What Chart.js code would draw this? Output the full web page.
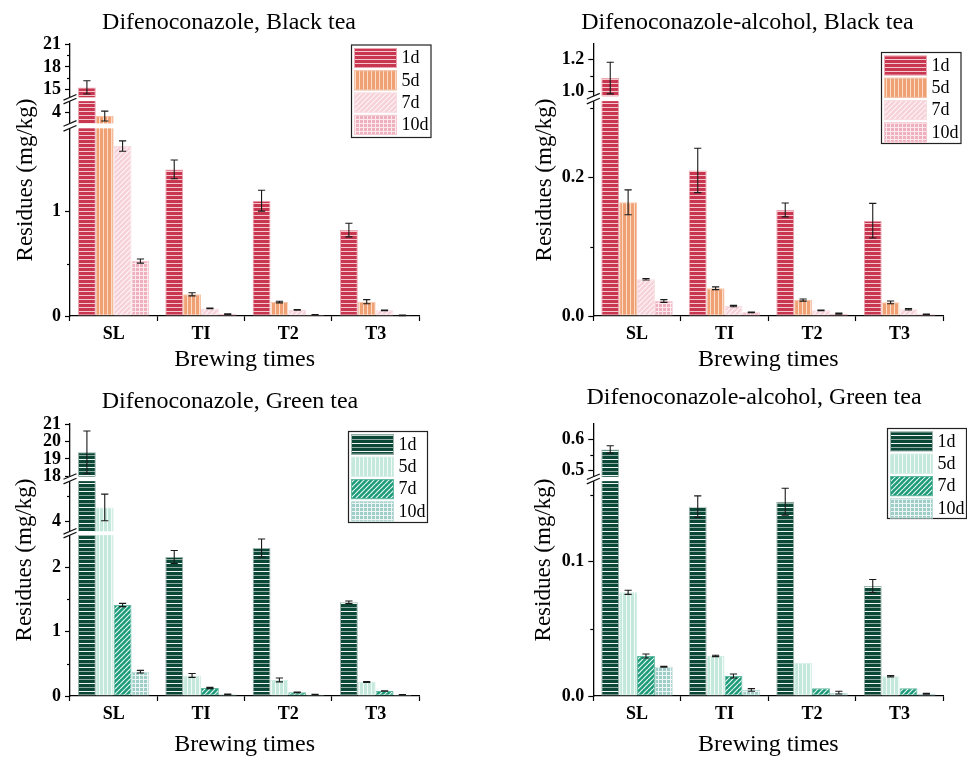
<!DOCTYPE html>
<html>
<head>
<meta charset="utf-8">
<title>Difenoconazole residues in brewed tea</title>
<script src="https://cdn.jsdelivr.net/npm/chart.js@4.4.1/dist/chart.umd.min.js"></script>
<style>
  html, body { margin: 0; padding: 0; background: #fff; }
  #wrap { position: relative; width: 967px; height: 758px; overflow: hidden; }
  #wrap canvas { position: absolute; }
</style>
</head>
<body>
<div id="wrap">
  <canvas id="difBlack" width="483" height="384" style="left:0;top:0"></canvas>
  <canvas id="alcBlack" width="484" height="384" style="left:483px;top:0"></canvas>
  <canvas id="difGreen" width="483" height="374" style="left:0;top:384px"></canvas>
  <canvas id="alcGreen" width="484" height="374" style="left:483px;top:384px"></canvas>
</div>
<script>
// ---- data ----
const categories = ['SL', 'TI', 'T2', 'T3'];
const seriesLabels = ['1d', '5d', '7d', '10d'];

// Difenoconazole, black tea (mg/kg): rows = 1d, 5d, 7d, 10d
const difBlackMean = [
  [15.3, 1.406, 1.106, 0.824],
  [3.83, 0.208, 0.134, 0.137],
  [1.63, 0.073, 0.058, 0.054],
  [0.527, 0.019, 0.013, 0.006]
];
const difBlackErr = [
  [0.87, 0.09, 0.10, 0.065],
  [0.22, 0.015, 0.008, 0.02],
  [0.05, 0.004, 0.003, 0.004],
  [0.02, 0.003, 0.002, 0.002]
];

// Difenoconazole-alcohol, black tea
const alcBlackMean = [
  [1.085, 0.210, 0.153, 0.1375],
  [0.164, 0.040, 0.023, 0.0197],
  [0.053, 0.0144, 0.0082, 0.0096],
  [0.0216, 0.0053, 0.0034, 0.0024]
];
const alcBlackErr = [
  [0.10, 0.032, 0.010, 0.025],
  [0.018, 0.002, 0.0015, 0.002],
  [0.001, 0.001, 0.0005, 0.001],
  [0.002, 0.0005, 0.0008, 0.0003]
];

// Difenoconazole, green tea
const difGreenMean = [
  [19.38, 2.16, 2.30, 1.456],
  [4.55, 0.32, 0.249, 0.218],
  [1.414, 0.124, 0.057, 0.078],
  [0.378, 0.026, 0.021, 0.02]
];
const difGreenErr = [
  [1.22, 0.10, 0.14, 0.02],
  [0.53, 0.03, 0.03, 0.006],
  [0.025, 0.01, 0.005, 0.004],
  [0.02, 0.004, 0.004, 0.004]
];

// Difenoconazole-alcohol, green tea
const alcGreenMean = [
  [0.568, 0.141, 0.1447, 0.0819],
  [0.0772, 0.0298, 0.0248, 0.0147],
  [0.0298, 0.0149, 0.0057, 0.0057],
  [0.0218, 0.0045, 0.0025, 0.0017]
];
const alcGreenErr = [
  [0.012, 0.008, 0.010, 0.0048],
  [0.0015, 0.0005, 0, 0.0005],
  [0.0015, 0.0015, 0, 0],
  [0.0003, 0.001, 0.001, 0.0003]
];

// y tick labels (major) and unlabelled minor ticks
const difBlackTicks = [0, 1, 4, 15, 18, 21];
const difBlackMinor = [0.5, 16.5, 19.5];
const alcBlackTicks = [0, 0.2, 1.0, 1.2];
const alcBlackMinor = [0.1, 0.3, 1.1];
const difGreenTicks = [0, 1, 2, 4, 18, 19, 20, 21];
const difGreenMinor = [0.5, 1.5, 5];
const alcGreenTicks = [0, 0.1, 0.5, 0.6];
const alcGreenMinor = [0.05, 0.15, 0.55];

// ---- broken value axis: [valueMin, valueMax, axisFracFrom, axisFracTo] per segment ----
class BrokenLinearScale extends Chart.LinearScale {
  determineDataLimits() {
    const segs = this.options.segments;
    this.min = segs[0][0];
    this.max = segs[segs.length - 1][1];
  }
  buildTicks() {
    return this.options.tickValues.map(v => ({ value: v }));
  }
  getPixelForValue(value) {
    const segs = this.options.segments;
    let d = 0;
    for (let i = 0; i < segs.length; i++) {
      const [lo, hi, f0, f1] = segs[i];
      if (value <= hi || i === segs.length - 1) {
        const v = Math.max(value, lo);
        d = f0 + (v - lo) / (hi - lo) * (f1 - f0);
        break;
      }
    }
    return this.getPixelForDecimal(d);
  }
  getValueForPixel(pixel) {
    const d = this.getDecimalForPixel(pixel);
    const segs = this.options.segments;
    for (let i = 0; i < segs.length; i++) {
      const [lo, hi, f0, f1] = segs[i];
      if (d <= f1 || i === segs.length - 1) {
        return lo + (Math.max(d, f0) - f0) / (f1 - f0) * (hi - lo);
      }
    }
    return this.max;
  }
}
BrokenLinearScale.id = 'brokenLinear';
BrokenLinearScale.defaults = {};
Chart.register(BrokenLinearScale);

Chart.defaults.font.family = "'Liberation Serif', 'Times New Roman', serif";
Chart.defaults.color = '#000';

// ---- fill patterns ----
function makePattern(ctx, w, h, paint) {
  const c = document.createElement('canvas');
  c.width = w; c.height = h;
  paint(c.getContext('2d'), w, h);
  return ctx.createPattern(c, 'repeat');
}
const hStripes = (base, line, line2) => ctx => makePattern(ctx, 4, 8, (g, w, h) => {
  g.fillStyle = base; g.fillRect(0, 0, w, h);
  g.fillStyle = line; g.fillRect(0, 3, w, 1);
  g.fillStyle = line2 || line; g.fillRect(0, 7, w, 1);
});
const vStripes = (base, line) => ctx => makePattern(ctx, 4, 4, (g, w, h) => {
  g.fillStyle = base; g.fillRect(0, 0, w, h);
  g.fillStyle = line; g.fillRect(3, 0, 1, h);
});
const diagonal = (base, line) => ctx => makePattern(ctx, 5, 5, (g, w, h) => {
  g.fillStyle = base; g.fillRect(0, 0, w, h);
  g.strokeStyle = line; g.lineWidth = 1.2;
  for (let k = -1; k <= 1; k++) {
    g.beginPath(); g.moveTo(k * w, h); g.lineTo(k * w + w, 0); g.stroke();
  }
});
const gridCells = (base, line) => ctx => makePattern(ctx, 4, 4, (g, w, h) => {
  g.fillStyle = base; g.fillRect(0, 0, w, h);
  g.fillStyle = line; g.fillRect(0, 3, w, 1); g.fillRect(3, 0, 1, h);
});

const redFills = [
  hStripes('#c9364f', '#f4c6ce'),
  vStripes('#f0a174', '#fbdccb'),
  diagonal('#f6d1d9', '#fff4f6'),
  gridCells('#efb0bd', '#fde9ed')
];
const redBorders = ['#eaa5b1', '#f6c4a8', '#f7dde2', '#f4c9d1'];
const greenFills = [
  hStripes('#0c4838', '#f2f7f5', '#93aca4'),
  vStripes('#c4e8dc', '#f3fbf8'),
  diagonal('#1c9a79', '#e4f5ef'),
  gridCells('#9fcdc8', '#ecf7f5')
];
const greenBorders = ['#9bb3ab', '#d6efe6', '#62b9a0', '#c0ded9'];

// ---- breaks, minor ticks, error bars, legend and panel title ----
const decorPlugin = {
  id: 'panelDecor',
  afterDatasetsDraw(chart, args, opts) {
    const { ctx, chartArea: area } = chart;
    const y = chart.scales.y;
    const segs = y.options.segments;
    ctx.save();

    for (let i = 0; i + 1 < segs.length; i++) {
      const yLow = y.getPixelForDecimal(segs[i][3]);
      const yHigh = y.getPixelForDecimal(segs[i + 1][2]);
      ctx.fillStyle = '#fff';
      ctx.fillRect(area.left - 2, yHigh, area.right - area.left + 3, yLow - yHigh);
      ctx.strokeStyle = '#111';
      ctx.lineWidth = 1.2;
      for (const py of [yLow, yHigh]) {
        ctx.beginPath();
        ctx.moveTo(area.left - 6.5, py + 2.8);
        ctx.lineTo(area.left + 6.5, py - 2.8);
        ctx.stroke();
      }
    }

    ctx.strokeStyle = '#000';
    ctx.lineWidth = 1.2;
    for (const v of opts.minor) {
      const py = Math.round(y.getPixelForValue(v)) + 0.5;
      ctx.beginPath();
      ctx.moveTo(area.left - 3, py);
      ctx.lineTo(area.left, py);
      ctx.stroke();
    }

    ctx.strokeStyle = '#1a1a1a';
    ctx.lineWidth = 1.1;
    chart.data.datasets.forEach((ds, di) => {
      const meta = chart.getDatasetMeta(di);
      meta.data.forEach((bar, j) => {
        const e = ds.errors[j];
        if (!e) return;
        const v = ds.data[j];
        const yT = y.getPixelForValue(v + e);
        const yB = y.getPixelForValue(v - e);
        const x = bar.x, cap = 3.6;
        ctx.beginPath();
        ctx.moveTo(x, yT); ctx.lineTo(x, yB);
        ctx.moveTo(x - cap, yT); ctx.lineTo(x + cap, yT);
        ctx.moveTo(x - cap, yB); ctx.lineTo(x + cap, yB);
        ctx.stroke();
      });
    });

    const L = opts.legend;
    ctx.fillStyle = '#fff';
    ctx.fillRect(L.x, L.y, L.w, L.h);
    ctx.strokeStyle = '#222';
    ctx.lineWidth = 1.2;
    ctx.strokeRect(L.x, L.y, L.w, L.h);
    ctx.font = "18px 'Liberation Serif', 'Times New Roman', serif";
    ctx.textAlign = 'left';
    ctx.textBaseline = 'middle';
    chart.data.datasets.forEach((ds, i) => {
      const sy = L.y + 3 + i * 22.3;
      ctx.fillStyle = ds.backgroundColor;
      ctx.fillRect(L.x + 2.5, sy, 43, 20);
      ctx.strokeStyle = ds.borderColor;
      ctx.lineWidth = 1;
      ctx.strokeRect(L.x + 3, sy + 0.5, 42, 19);
      ctx.fillStyle = '#000';
      ctx.fillText(ds.label, L.x + 50, sy + 10.5);
    });

    ctx.font = "24px 'Liberation Serif', 'Times New Roman', serif";
    ctx.textAlign = 'center';
    ctx.textBaseline = 'middle';
    ctx.fillStyle = '#000';
    ctx.fillText(opts.title, opts.titleX, opts.titleY);
    ctx.restore();
  }
};

function makePanel(id, cfg) {
  const canvas = document.getElementById(id);
  const ctx = canvas.getContext('2d');
  const datasets = seriesLabels.map((label, i) => ({
    label,
    data: cfg.mean[i],
    errors: cfg.err[i],
    backgroundColor: cfg.fills[i](ctx),
    borderColor: cfg.borders[i],
    borderWidth: 1,
    borderSkipped: false,
    categoryPercentage: 0.817,
    barPercentage: 1
  }));
  return new Chart(ctx, {
    type: 'bar',
    data: { labels: categories, datasets },
    options: {
      responsive: false,
      animation: false,
      devicePixelRatio: 1,
      layout: { padding: { left: 0, top: cfg.top, right: cfg.right, bottom: 0 } },
      plugins: {
        legend: { display: false },
        tooltip: { enabled: false },
        panelDecor: {
          title: cfg.title, titleX: cfg.titleX, titleY: cfg.titleY,
          legend: cfg.legend, minor: cfg.minor
        }
      },
      scales: {
        x: {
          type: 'category',
          offset: true,
          grid: { offset: true, drawOnChartArea: false, tickLength: 5, tickColor: '#000', tickWidth: 1.2 },
          border: { display: true, color: '#000', width: 1.3 },
          ticks: { font: { size: 18, weight: 'bold' }, color: '#000', padding: 3, maxRotation: 0, autoSkip: false },
          title: {
            display: true, text: 'Brewing times', color: '#000',
            font: { size: 24, lineHeight: 1 }, padding: { top: 0, bottom: cfg.xTitlePad }
          },
          afterFit: s => { s.height = cfg.xHeight; }
        },
        y: {
          type: 'brokenLinear',
          segments: cfg.segments,
          tickValues: cfg.ticks,
          grid: { drawOnChartArea: false, tickLength: 5, tickColor: '#000', tickWidth: 1.2 },
          border: { display: true, color: '#000', width: 1.3 },
          ticks: {
            autoSkip: false,
            font: { size: 18, weight: 'bold' }, color: '#000', padding: 4,
            callback: v => v.toFixed(cfg.decimals)
          },
          title: {
            display: true, text: 'Residues (mg/kg)', color: '#000',
            font: { size: 23, lineHeight: 1 }, padding: { top: cfg.yTitlePad, bottom: 0 }
          },
          afterFit: s => { s.width = cfg.yWidth; }
        }
      }
    },
    plugins: [decorPlugin]
  });
}

makePanel('difBlack', {
  title: 'Difenoconazole, Black tea', titleX: 229, titleY: 22.5,
  mean: difBlackMean, err: difBlackErr, fills: redFills, borders: redBorders,
  ticks: difBlackTicks, minor: difBlackMinor, decimals: 0,
  segments: [[0, 1.8, 0, 0.690], [3.5, 4.5, 0.708, 0.790], [14, 21, 0.804, 1]],
  top: 44, right: 63.7, yWidth: 70, xHeight: 68, yTitlePad: 14.5, xTitlePad: 12,
  legend: { x: 351.5, y: 45, w: 79.5, h: 92.5 }
});
makePanel('alcBlack', {
  title: 'Difenoconazole-alcohol, Black tea', titleX: 264.5, titleY: 22.5,
  mean: alcBlackMean, err: alcBlackErr, fills: redFills, borders: redBorders,
  ticks: alcBlackTicks, minor: alcBlackMinor, decimals: 1,
  segments: [[0, 0.31, 0, 0.790], [0.97, 1.3, 0.808, 1]],
  top: 44, right: 23.7, yWidth: 110.3, xHeight: 68, yTitlePad: 50.5, xTitlePad: 12,
  legend: { x: 398.5, y: 52.5, w: 79.5, h: 91 }
});
makePanel('difGreen', {
  title: 'Difenoconazole, Green tea', titleX: 230, titleY: 18,
  mean: difGreenMean, err: difGreenErr, fills: greenFills, borders: greenBorders,
  ticks: difGreenTicks, minor: difGreenMinor, decimals: 0,
  segments: [[0, 2.5, 0, 0.5915], [3.6, 5.6, 0.6055, 0.790], [18, 21, 0.807, 1]],
  top: 40, right: 63.7, yWidth: 70, xHeight: 62, yTitlePad: 13.5, xTitlePad: 1,
  legend: { x: 348.5, y: 47.5, w: 79, h: 91 }
});
makePanel('alcGreen', {
  title: 'Difenoconazole-alcohol, Green tea', titleX: 271, titleY: 13.5,
  mean: alcGreenMean, err: alcGreenErr, fills: greenFills, borders: greenBorders,
  ticks: alcGreenTicks, minor: alcGreenMinor, decimals: 1,
  segments: [[0, 0.16, 0, 0.790], [0.48, 0.65, 0.806, 1]],
  top: 40, right: 23.7, yWidth: 110.3, xHeight: 62, yTitlePad: 49.5, xTitlePad: 1,
  legend: { x: 404.5, y: 44.5, w: 79, h: 90 }
});
</script>
</body>
</html>
